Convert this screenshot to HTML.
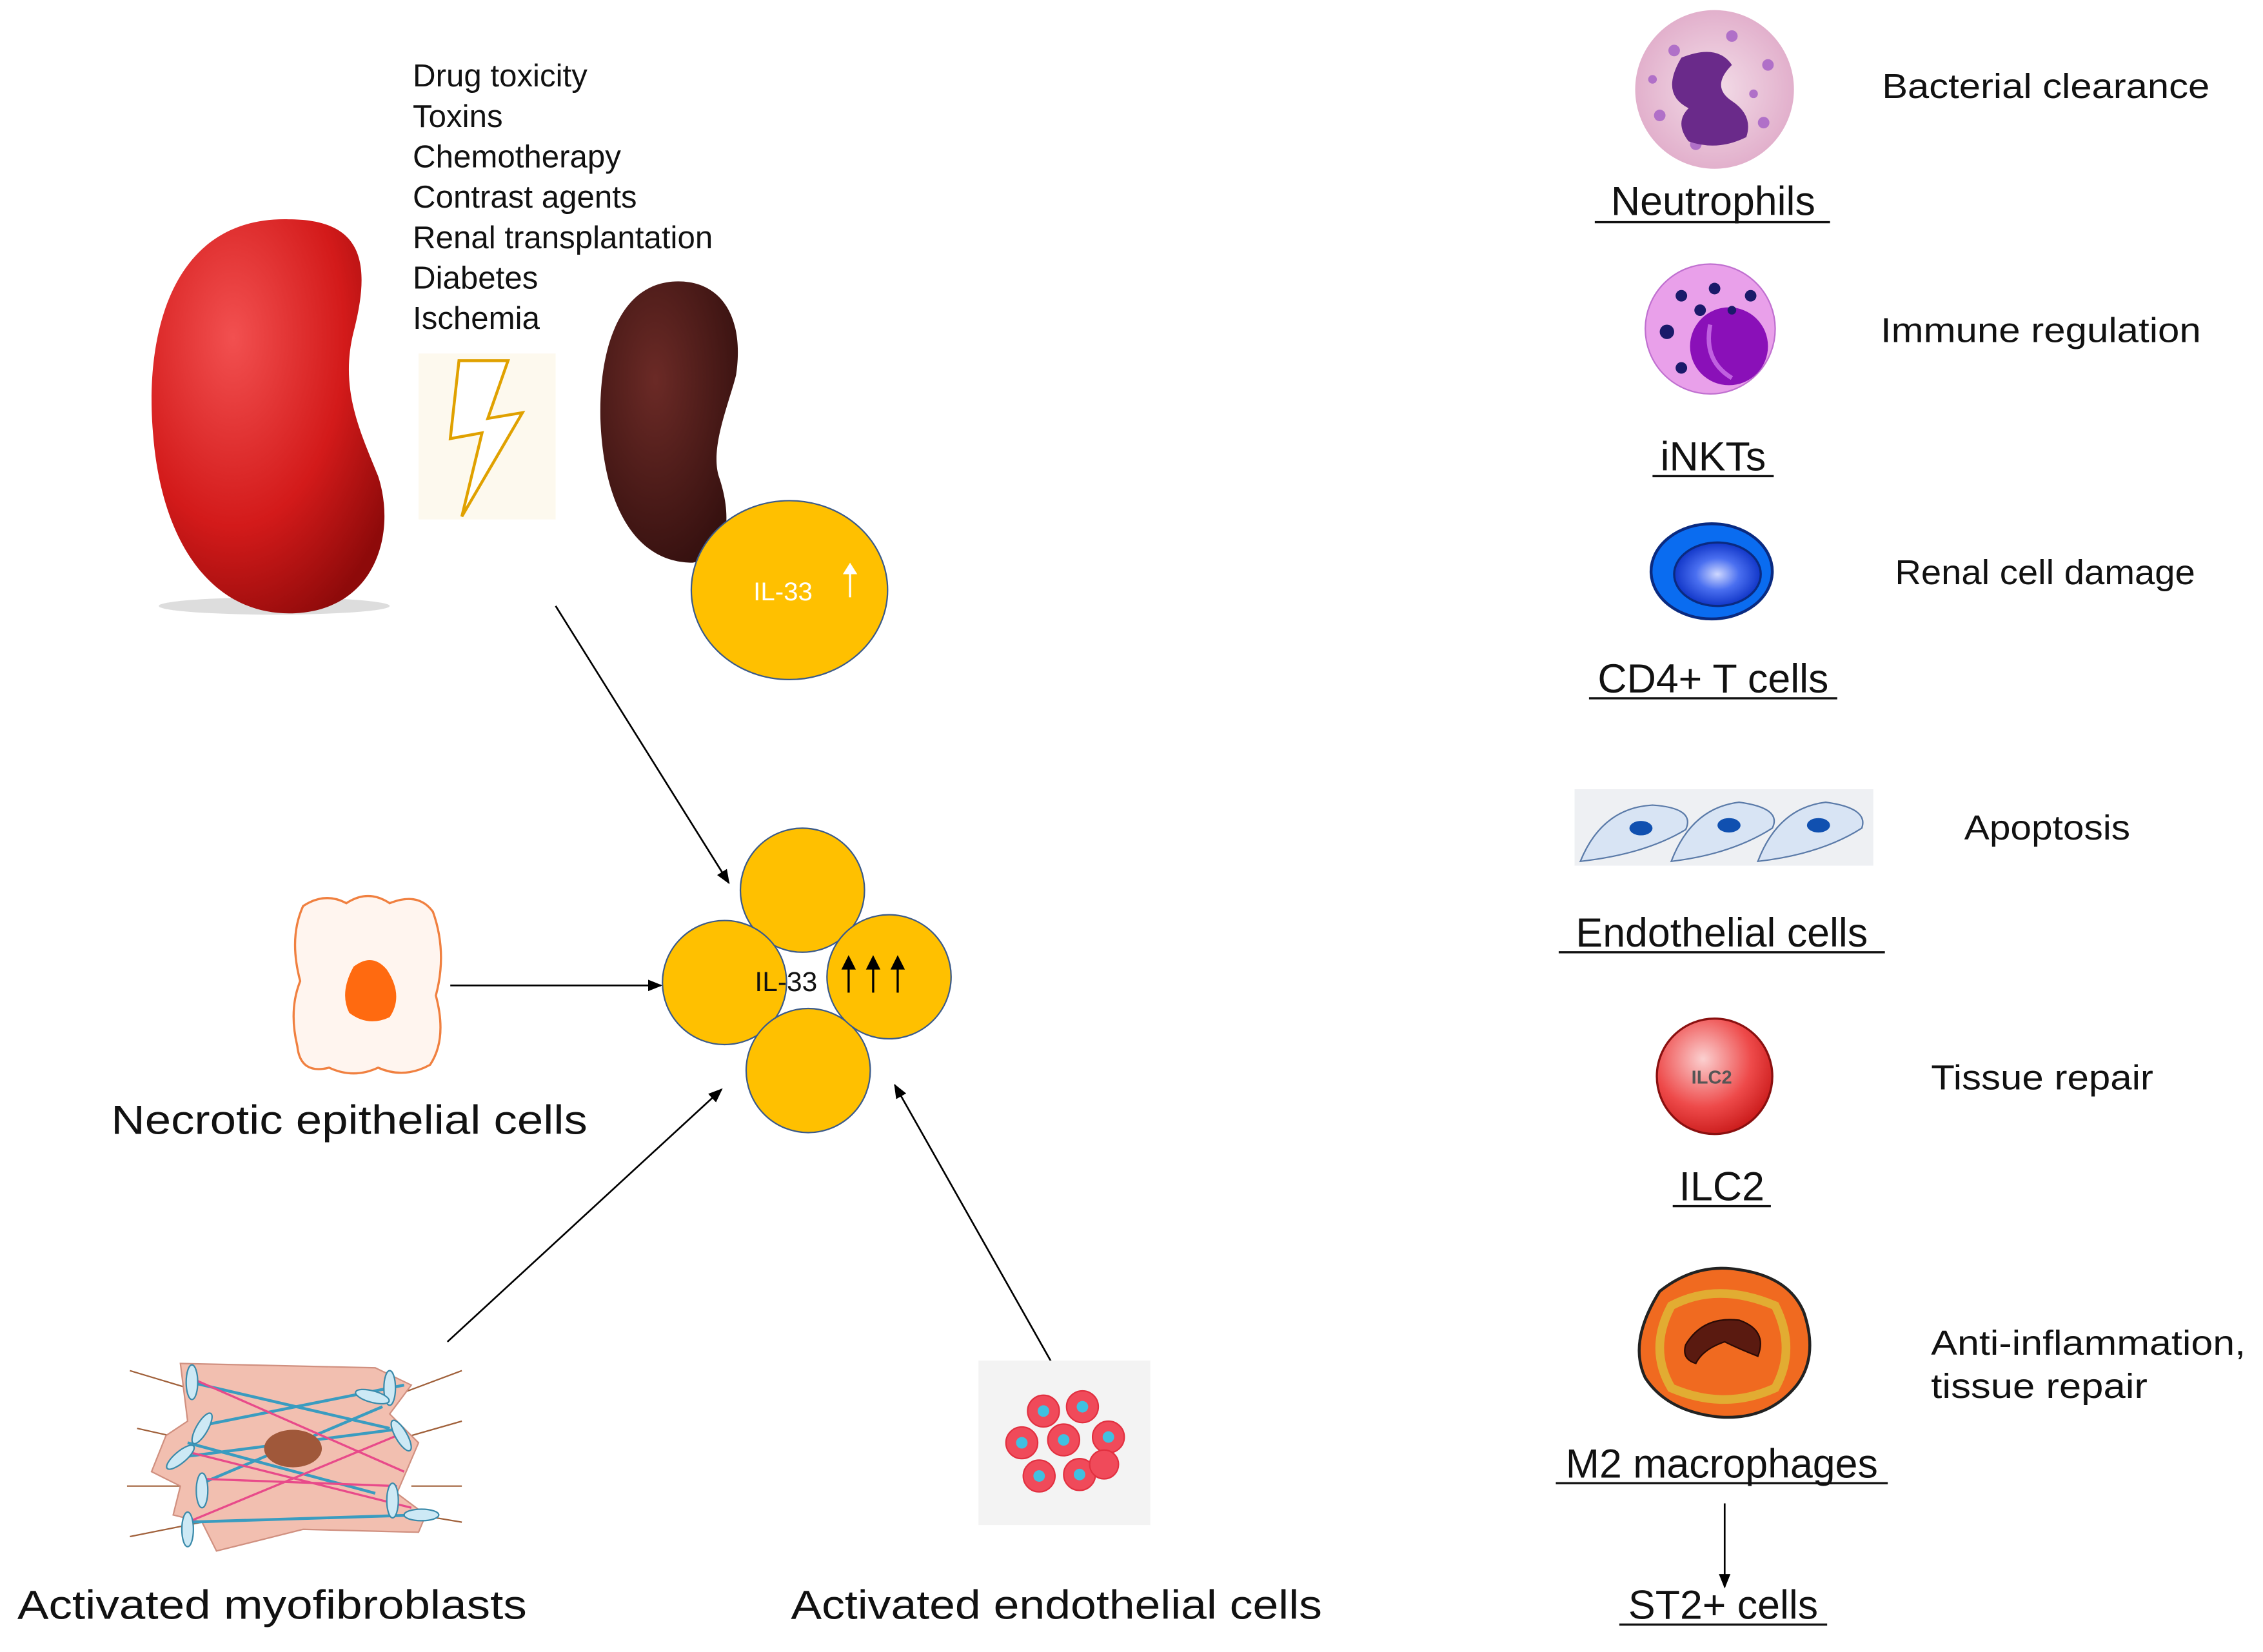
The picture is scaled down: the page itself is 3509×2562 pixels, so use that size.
<!DOCTYPE html>
<html><head><meta charset="utf-8"><style>
html,body{margin:0;padding:0;background:#fff;}
svg{display:block;}
text{font-family:"Liberation Sans","DejaVu Sans",sans-serif;fill:#111;}
</style></head><body>
<svg width="3509" height="2562" viewBox="0 0 1568 1145" preserveAspectRatio="none" xmlns="http://www.w3.org/2000/svg">
<defs>
<marker id="ah" markerWidth="10" markerHeight="10" refX="9" refY="5" orient="auto" markerUnits="userSpaceOnUse"><path d="M0,1 L10,5 L0,9 Z" fill="#000"/></marker>
<radialGradient id="kid" cx="0.35" cy="0.3" r="0.8"><stop offset="0" stop-color="#f25050"/><stop offset="0.6" stop-color="#d31a1a"/><stop offset="1" stop-color="#8e0a0a"/></radialGradient>
<radialGradient id="dk" cx="0.4" cy="0.35" r="0.8"><stop offset="0" stop-color="#6b2a26"/><stop offset="1" stop-color="#2e0d0c"/></radialGradient>
<radialGradient id="ilc" cx="0.4" cy="0.35" r="0.7"><stop offset="0" stop-color="#fbd0d0"/><stop offset="0.6" stop-color="#ee4a4a"/><stop offset="1" stop-color="#c81818"/></radialGradient>
<radialGradient id="cd4" cx="0.5" cy="0.5" r="0.5"><stop offset="0" stop-color="#cfd8ff"/><stop offset="0.5" stop-color="#4a6ff0"/><stop offset="1" stop-color="#1136c8"/></radialGradient>
<radialGradient id="neu" cx="0.5" cy="0.5" r="0.5"><stop offset="0" stop-color="#f3dde8"/><stop offset="1" stop-color="#e2b0cc"/></radialGradient>
</defs>

<!-- left text list -->
<g font-size="22">
<text x="286" y="60">Drug toxicity</text>
<text x="286" y="88">Toxins</text>
<text x="286" y="116">Chemotherapy</text>
<text x="286" y="144">Contrast agents</text>
<text x="286" y="172">Renal transplantation</text>
<text x="286" y="200">Diabetes</text>
<text x="286" y="228">Ischemia</text>
</g>

<!-- red kidney -->
<ellipse cx="190" cy="420" rx="80" ry="6" fill="#ddd"/>
<path d="M200,152 C120,150 100,230 106,300 C112,380 150,428 205,425 C260,422 275,370 262,330 C250,300 235,270 245,230 C258,180 250,152 200,152 Z" fill="url(#kid)"/>

<!-- lightning -->
<rect x="290" y="245" width="95" height="115" fill="#fdf9ee"/>
<path d="M318,250 L352,250 L338,290 L362,286 L320,358 L334,300 L312,304 Z" fill="#fff" stroke="#e0a100" stroke-width="2"/>

<!-- dark kidney -->
<path d="M470,195 C430,195 415,240 416,290 C418,350 440,390 480,390 C510,385 505,350 498,330 C492,310 505,280 510,260 C516,220 500,195 470,195 Z" fill="url(#dk)"/>

<!-- IL-33 top circle -->
<ellipse cx="547" cy="409" rx="68" ry="62" fill="#ffc000" stroke="#3a5a8a" stroke-width="1"/>
<text x="522" y="416" font-size="18" fill="#fff" style="fill:#fff">IL-33</text>
<line x1="589" y1="414" x2="589" y2="394" stroke="#fff" stroke-width="1.5"/>
<path d="M584,398 L589,390 L594,398 Z" fill="#fff"/>

<!-- arrows -->
<line x1="385" y1="420" x2="505" y2="612" stroke="#000" stroke-width="1.2" marker-end="url(#ah)"/>
<line x1="312" y1="683" x2="458" y2="683" stroke="#000" stroke-width="1.2" marker-end="url(#ah)"/>
<line x1="310" y1="930" x2="500" y2="755" stroke="#000" stroke-width="1.2" marker-end="url(#ah)"/>
<line x1="733" y1="952" x2="620" y2="752" stroke="#000" stroke-width="1.2" marker-end="url(#ah)"/>
<line x1="1195" y1="1042" x2="1195" y2="1100" stroke="#000" stroke-width="1.2" marker-end="url(#ah)"/>

<!-- cluster -->
<g fill="#ffc000" stroke="#3a5a8a" stroke-width="1">
<circle cx="556" cy="617" r="43"/>
<circle cx="502" cy="681" r="43"/>
<circle cx="560" cy="742" r="43"/>
<circle cx="616" cy="677" r="43"/>
</g>
<text x="523" y="687" font-size="19">IL-33</text>
<g stroke="#000" stroke-width="1.5">
<line x1="588" y1="688" x2="588" y2="668"/><line x1="605" y1="688" x2="605" y2="668"/><line x1="622" y1="688" x2="622" y2="668"/>
</g>
<path d="M583,672 L588,662 L593,672Z M600,672 L605,662 L610,672Z M617,672 L622,662 L627,672Z" fill="#000"/>

<!-- necrotic cell -->
<path d="M210,628 Q225,618 240,626 Q255,616 270,626 Q290,618 300,632 Q310,660 302,690 Q310,720 298,738 Q280,748 262,740 Q245,748 228,740 Q208,745 206,725 Q200,700 208,680 Q200,650 210,628 Z" fill="#fff5ef" stroke="#f08040" stroke-width="1.5"/>
<path d="M245,670 Q258,660 268,672 Q280,690 270,705 Q255,712 242,702 Q235,688 245,670 Z" fill="#ff6a10"/>
<text x="77" y="786" font-size="28" textLength="330" lengthAdjust="spacingAndGlyphs">Necrotic epithelial cells</text>

<!-- myofibroblast -->
<g stroke="#a0603a" stroke-width="1">
<line x1="90" y1="950" x2="140" y2="965"/><line x1="95" y1="990" x2="140" y2="1000"/><line x1="88" y1="1030" x2="140" y2="1030"/><line x1="90" y1="1065" x2="140" y2="1055"/>
<line x1="320" y1="950" x2="280" y2="965"/><line x1="320" y1="985" x2="285" y2="995"/><line x1="320" y1="1030" x2="285" y2="1030"/><line x1="320" y1="1055" x2="290" y2="1050"/>
</g>
<path d="M125,945 L260,948 L285,960 L270,980 L290,1000 L275,1035 L295,1050 L290,1062 L210,1060 L150,1075 L140,1055 L120,1050 L125,1030 L105,1020 L115,995 L130,985 L125,945 Z" fill="#f2bfb0" stroke="#d09080" stroke-width="1"/>
<g stroke="#3a9cc0" stroke-width="2">
<line x1="132" y1="958" x2="270" y2="990"/><line x1="140" y1="988" x2="280" y2="960"/><line x1="130" y1="1000" x2="260" y2="1035"/><line x1="140" y1="1028" x2="265" y2="975"/><line x1="130" y1="1055" x2="290" y2="1050"/><line x1="125" y1="1010" x2="280" y2="990"/>
</g>
<g stroke="#e84a8a" stroke-width="1.5">
<line x1="132" y1="955" x2="280" y2="1020"/><line x1="125" y1="1005" x2="285" y2="1045"/><line x1="130" y1="1055" x2="275" y2="995"/><line x1="140" y1="1025" x2="275" y2="1030"/>
</g>
<g fill="#cde9f5" stroke="#3a8aaa" stroke-width="1">
<ellipse cx="133" cy="958" rx="4" ry="12"/><ellipse cx="140" cy="990" rx="4" ry="12" transform="rotate(30 140 990)"/><ellipse cx="125" cy="1010" rx="4" ry="12" transform="rotate(50 125 1010)"/><ellipse cx="140" cy="1033" rx="4" ry="12"/><ellipse cx="130" cy="1060" rx="4" ry="12"/>
<ellipse cx="270" cy="962" rx="4" ry="12"/><ellipse cx="278" cy="995" rx="4" ry="12" transform="rotate(-30 278 995)"/><ellipse cx="272" cy="1040" rx="4" ry="12"/><ellipse cx="292" cy="1050" rx="12" ry="4"/><ellipse cx="258" cy="968" rx="12" ry="4" transform="rotate(15 258 968)"/>
</g>
<ellipse cx="203" cy="1004" rx="20" ry="13" fill="#a0583a"/>
<text x="12" y="1122" font-size="28" textLength="353" lengthAdjust="spacingAndGlyphs">Activated myofibroblasts</text>

<!-- activated endothelial -->
<rect x="678" y="943" width="119" height="114" fill="#f3f3f3"/>
<g fill="#f04a5a" stroke="#e23040" stroke-width="1">
<circle cx="723" cy="978" r="11"/><circle cx="750" cy="975" r="11"/><circle cx="708" cy="1000" r="11"/><circle cx="737" cy="998" r="11"/><circle cx="768" cy="996" r="11"/><circle cx="720" cy="1023" r="11"/><circle cx="748" cy="1022" r="11"/><circle cx="765" cy="1015" r="10"/>
</g>
<g fill="#40c0e0"><circle cx="723" cy="978" r="4"/><circle cx="750" cy="975" r="4"/><circle cx="708" cy="1000" r="4"/><circle cx="737" cy="998" r="4"/><circle cx="768" cy="996" r="4"/><circle cx="720" cy="1023" r="4"/><circle cx="748" cy="1022" r="4"/></g>
<text x="548" y="1122" font-size="28" textLength="368" lengthAdjust="spacingAndGlyphs">Activated endothelial cells</text>

<!-- right column -->
<!-- neutrophil -->
<circle cx="1188" cy="62" r="55" fill="url(#neu)"/>
<g fill="#b070c8"><circle cx="1160" cy="35" r="4"/><circle cx="1200" cy="25" r="4"/><circle cx="1225" cy="45" r="4"/><circle cx="1150" cy="80" r="4"/><circle cx="1222" cy="85" r="4"/><circle cx="1175" cy="100" r="4"/><circle cx="1215" cy="65" r="3"/><circle cx="1145" cy="55" r="3"/></g>
<path d="M1165,40 Q1190,30 1200,45 Q1185,60 1200,70 Q1215,80 1210,95 Q1190,105 1170,98 Q1160,85 1170,75 Q1150,65 1165,40 Z" fill="#6a2a8a"/>
<text x="1187" y="149" font-size="28" text-anchor="middle">Neutrophils</text>
<line x1="1105" y1="154" x2="1268" y2="154" stroke="#111" stroke-width="1.5"/>
<text x="1304" y="68" font-size="24" textLength="227" lengthAdjust="spacingAndGlyphs">Bacterial clearance</text>

<!-- iNKT -->
<circle cx="1185" cy="228" r="45" fill="#e9a0ea" stroke="#c070d0" stroke-width="1"/>
<circle cx="1198" cy="240" r="27" fill="#8a10b8"/>
<path d="M1185,225 Q1180,250 1200,262" stroke="#c060e0" stroke-width="3" fill="none"/>
<g fill="#1a1a6a"><circle cx="1165" cy="205" r="4"/><circle cx="1188" cy="200" r="4"/><circle cx="1213" cy="205" r="4"/><circle cx="1155" cy="230" r="5"/><circle cx="1178" cy="215" r="4"/><circle cx="1165" cy="255" r="4"/><circle cx="1200" cy="215" r="3"/></g>
<text x="1187" y="326" font-size="28" text-anchor="middle">iNKTs</text>
<line x1="1145" y1="330" x2="1229" y2="330" stroke="#111" stroke-width="1.5"/>
<text x="1303" y="237" font-size="24" textLength="222" lengthAdjust="spacingAndGlyphs">Immune regulation</text>

<!-- CD4 -->
<ellipse cx="1186" cy="396" rx="42" ry="33" fill="#0a6cf0" stroke="#0a2a80" stroke-width="2"/>
<ellipse cx="1190" cy="398" rx="30" ry="22" fill="url(#cd4)" stroke="#0a2a80" stroke-width="1.5"/>
<text x="1187" y="480" font-size="28" text-anchor="middle">CD4+ T cells</text>
<line x1="1101" y1="484" x2="1273" y2="484" stroke="#111" stroke-width="1.5"/>
<text x="1313" y="405" font-size="24" textLength="208" lengthAdjust="spacingAndGlyphs">Renal cell damage</text>

<!-- endothelial cells -->
<rect x="1091" y="547" width="207" height="53" fill="#eef0f3"/>
<g fill="#d8e4f4" stroke="#5a7aa8" stroke-width="1">
<path d="M1095,597 Q1110,560 1145,558 Q1175,560 1168,575 Q1140,592 1095,597 Z"/>
<path d="M1158,597 Q1172,560 1205,556 Q1235,560 1228,574 Q1200,592 1158,597 Z"/>
<path d="M1218,597 Q1232,560 1265,556 Q1295,560 1290,574 Q1262,592 1218,597 Z"/>
</g>
<g fill="#1050b0"><ellipse cx="1137" cy="574" rx="8" ry="5"/><ellipse cx="1198" cy="572" rx="8" ry="5"/><ellipse cx="1260" cy="572" rx="8" ry="5"/></g>
<text x="1193" y="656" font-size="28" text-anchor="middle">Endothelial cells</text>
<line x1="1080" y1="660" x2="1306" y2="660" stroke="#111" stroke-width="1.5"/>
<text x="1361" y="582" font-size="24" textLength="115" lengthAdjust="spacingAndGlyphs">Apoptosis</text>

<!-- ILC2 -->
<circle cx="1188" cy="746" r="40" fill="url(#ilc)" stroke="#8a1010" stroke-width="1.5"/>
<text x="1186" y="751" font-size="13" text-anchor="middle" font-weight="bold" style="fill:#555">ILC2</text>
<text x="1193" y="832" font-size="28" text-anchor="middle">ILC2</text>
<line x1="1159" y1="836" x2="1227" y2="836" stroke="#111" stroke-width="1.5"/>
<text x="1338" y="755" font-size="24" textLength="154" lengthAdjust="spacingAndGlyphs">Tissue repair</text>

<!-- M2 -->
<path d="M1150,895 Q1175,875 1205,880 Q1240,885 1250,910 Q1260,940 1245,960 Q1225,985 1190,982 Q1155,978 1140,955 Q1128,930 1150,895 Z" fill="#f06a20" stroke="#222" stroke-width="2"/>
<path d="M1158,905 Q1190,888 1230,905 Q1245,935 1230,962 Q1195,978 1158,962 Q1142,935 1158,905 Z" fill="none" stroke="#d8d840" stroke-width="6" opacity="0.6"/>
<path d="M1168,932 Q1180,912 1205,915 Q1225,922 1218,940 Q1205,935 1195,930 Q1180,935 1175,945 Q1165,942 1168,932 Z" fill="#5a1a10" stroke="#2a0a05" stroke-width="1"/>
<text x="1193" y="1024" font-size="28" text-anchor="middle">M2 macrophages</text>
<line x1="1078" y1="1028" x2="1308" y2="1028" stroke="#111" stroke-width="1.5"/>
<text x="1338" y="939" font-size="24" textLength="218" lengthAdjust="spacingAndGlyphs">Anti-inflammation,</text>
<text x="1338" y="969" font-size="24" textLength="150" lengthAdjust="spacingAndGlyphs">tissue repair</text>

<!-- ST2+ -->
<text x="1194" y="1122" font-size="28" text-anchor="middle">ST2+ cells</text>
<line x1="1122" y1="1126" x2="1266" y2="1126" stroke="#111" stroke-width="1.5"/>
</svg>
</body></html>
